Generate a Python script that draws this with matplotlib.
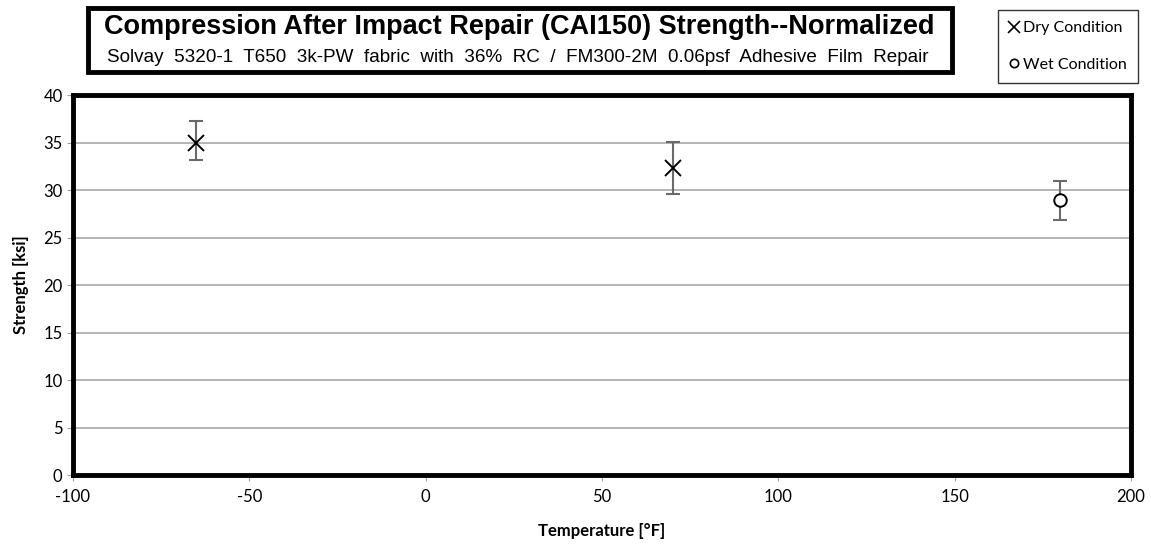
import matplotlib
matplotlib.use('Agg')
import matplotlib.pyplot as plt
from matplotlib.patches import Rectangle
from matplotlib.lines import Line2D

# dados
temp_dry = [-65, 70]
str_dry = [34.9, 32.3]
err_dry_lo = [1.7, 2.7]
err_dry_hi = [2.4, 2.8]

temp_wet = [180]
str_wet = [28.9]
err_wet_lo = [2.1]
err_wet_hi = [2.0]

xticks = [-100, -50, 0, 50, 100, 150, 200]
yticks = [0, 5, 10, 15, 20, 25, 30, 35, 40]

plt.rcParams['font.family'] = ['Lato', 'DejaVu Sans']
plt.rcParams['axes.unicode_minus'] = False

fig = plt.figure(figsize=(11.51, 5.46), dpi=100)
ax = fig.add_axes([0.0634, 0.130, 0.9192, 0.696])

ax.errorbar(temp_dry, str_dry, yerr=[err_dry_lo, err_dry_hi], fmt='none',
            ecolor='#6a6a6a', elinewidth=1.5, capsize=5, capthick=1.5, zorder=3)
ax.plot(temp_dry, str_dry, 'x', color='black', markersize=12, mew=1.4, zorder=4)
ax.errorbar(temp_wet, str_wet, yerr=[err_wet_lo, err_wet_hi], fmt='none',
            ecolor='#6a6a6a', elinewidth=1.5, capsize=5, capthick=1.5, zorder=3)
ax.plot(temp_wet, str_wet, 'o', color='black', mfc='white', markersize=9, mew=1.4, zorder=4)

ax.set_xlim(-100, 200)
ax.set_ylim(0, 40)
ax.set_xticks(xticks)
ax.set_yticks(yticks)
ax.grid(axis='y', color='#b0b0b0', linewidth=1.3)
ax.set_axisbelow(True)
ax.tick_params(axis='both', labelsize=12, color='#a0a0a0', length=4)
ax.tick_params(axis='x', pad=6)
for s in ax.spines.values():
    s.set_linewidth(3.5)
    s.set_color('black')

ax.set_xlabel('Temperature [°F]', fontsize=12, fontweight='bold', labelpad=13)
ax.set_ylabel('Strength [ksi]', fontsize=12, fontweight='bold', labelpad=10)

# caixa do título
fig.patches.append(Rectangle((88/1151, 1 - 72/546), 864/1151, 64/546,
                             transform=fig.transFigure, fill=False,
                             edgecolor='black', linewidth=3.5))
fig.text(519/1151, 1 - 27/546, 'Compression After Impact Repair (CAI150) Strength--Normalized',
         ha='center', va='center', fontsize=19.5, fontweight='bold',
         family=['Liberation Sans Narrow', 'Liberation Sans', 'DejaVu Sans'])
fig.text(518/1151, 1 - 57/546,
         'Solvay  5320-1  T650  3k-PW  fabric  with  36%  RC  /  FM300-2M  0.06psf  Adhesive  Film  Repair',
         ha='center', va='center', fontsize=13.6,
         family=['Liberation Sans Narrow', 'Liberation Sans', 'DejaVu Sans'])

# legenda
h1 = Line2D([], [], marker='x', color='black', linestyle='none', markersize=8, mew=1.2)
h2 = Line2D([], [], marker='o', color='black', mfc='white', linestyle='none', markersize=6, mew=1.2)
leg = fig.legend([h1, h2], ['Dry Condition', 'Wet Condition'],
                 loc='upper right', bbox_to_anchor=(1146/1151, 1 - 2/546),
                 fontsize=11.5, frameon=True, fancybox=False, handlelength=0.6,
                 handletextpad=0.3, labelspacing=1.4, borderpad=0.7)
leg.get_frame().set_edgecolor('black')
leg.get_frame().set_linewidth(1.0)

fig.savefig('out.png', dpi=100)
